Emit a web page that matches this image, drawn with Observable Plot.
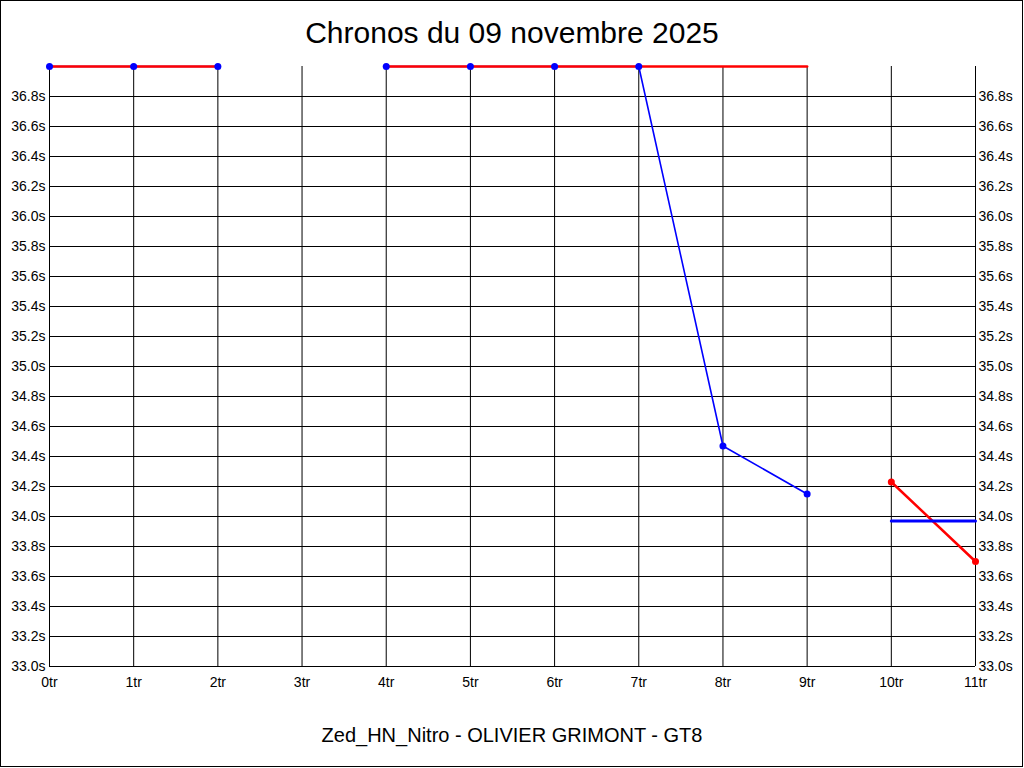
<!DOCTYPE html>
<html>
<head>
<meta charset="utf-8">
<script src="https://cdn.jsdelivr.net/npm/d3@7"></script>
<script src="https://cdn.jsdelivr.net/npm/@observablehq/plot@0.6"></script>
<style>
  html, body { margin: 0; padding: 0; background: #fff; }
  #wrap { position: relative; width: 1024px; height: 768px; overflow: hidden; font-family: "Liberation Sans", Arial, sans-serif; }
  #frame { position: absolute; left: 0; top: 0; width: 1023px; height: 767px; box-sizing: border-box; border: 1px solid #000; pointer-events: none; }
  #title { position: absolute; left: 0; width: 1024px; top: 17px; text-align: center; font-size: 30px; line-height: 32px; color: #000; }
  #caption { position: absolute; left: 0; width: 1024px; top: 724px; text-align: center; font-size: 20px; line-height: 22px; color: #000; }
  #chart { position: absolute; left: 0; top: 0; }
</style>
</head>
<body>
<div id="wrap">
  <div id="chart"></div>
  <div id="title">Chronos du 09 novembre 2025</div>
  <div id="caption">Zed_HN_Nitro - OLIVIER GRIMONT - GT8</div>
  <div id="frame"></div>
</div>
<script>
// Laps (tours)
const laps = [0, 1, 2, 3, 4, 5, 6, 7, 8, 9, 10, 11];
// Red series (values at top are shown at the chart ceiling, 37.0s)
const redTimes = [37, 37, 37, null, 37, 37, 37, 37, 37, 37, 34.23, 33.70];
// Red series segments (line breaks between segments)
const redSegment = ["a", "a", "a", null, "b", "b", "b", "b", "b", "b", "c", "c"];
// Blue series
const blueTimes = [37, 37, 37, null, 37, 37, 37, 37, 34.47, 34.15, null, null];
// Blue reference level (laps 10 to 11)
const refLaps = [10, 11];
const refTime = 33.97;
// Axis ticks
const yTicks = [33.0, 33.2, 33.4, 33.6, 33.8, 34.0, 34.2, 34.4, 34.6, 34.8, 35.0, 35.2, 35.4, 35.6, 35.8, 36.0, 36.2, 36.4, 36.6, 36.8];
const xTicks = [0, 1, 2, 3, 4, 5, 6, 7, 8, 9, 10, 11];
const yMin = 33.0, yMax = 37.0;

const red = laps.map((l, i) => ({lap: l, t: redTimes[i], seg: redSegment[i]}));
const blue = laps.map((l, i) => ({lap: l, t: blueTimes[i]}));
const ref = refLaps.map(l => ({lap: l, t: refTime}));

const chart = Plot.plot({
  width: 1024,
  height: 768,
  marginLeft: 49,
  marginRight: 49,
  marginTop: 66,
  marginBottom: 102,
  style: {fontFamily: "'Liberation Sans', Arial, sans-serif", fontSize: "14px", background: "transparent", color: "#000"},
  x: {domain: [0, 11]},
  y: {domain: [yMin, yMax]},
  marks: [
    Plot.gridY(yTicks, {stroke: "#000", strokeOpacity: 1, strokeWidth: 1}),
    Plot.gridX(xTicks, {stroke: "#000", strokeOpacity: 1, strokeWidth: 1}),
    Plot.axisY(yTicks, {anchor: "left", tickSize: 0, tickPadding: 4, tickFormat: d => d.toFixed(1) + "s", label: null, fill: "#000"}),
    Plot.axisY(yTicks, {anchor: "right", tickSize: 0, tickPadding: 3, tickFormat: d => d.toFixed(1) + "s", label: null, fill: "#000"}),
    Plot.axisX(xTicks, {anchor: "bottom", tickSize: 0, tickPadding: 11, tickFormat: d => d + "tr", label: null, fill: "#000"}),
    Plot.line(blue, {x: "lap", y: "t", stroke: "#0000ff", strokeWidth: 1.6}),
    Plot.line(red.filter(d => d.t != null), {x: "lap", y: "t", z: "seg", stroke: "#ff0000", strokeWidth: 2.5}),
    Plot.line(ref, {x: "lap", y: "t", stroke: "#0000ff", strokeWidth: 3}),
    Plot.dot(blue.filter(d => d.t != null), {x: "lap", y: "t", r: 3.5, fill: "#0000ff", stroke: "none"}),
    Plot.dot(red.filter(d => d.t != null && d.t < yMax), {x: "lap", y: "t", r: 3.5, fill: "#ff0000", stroke: "none"})
  ]
});
document.getElementById("chart").appendChild(chart);
</script>
</body>
</html>
